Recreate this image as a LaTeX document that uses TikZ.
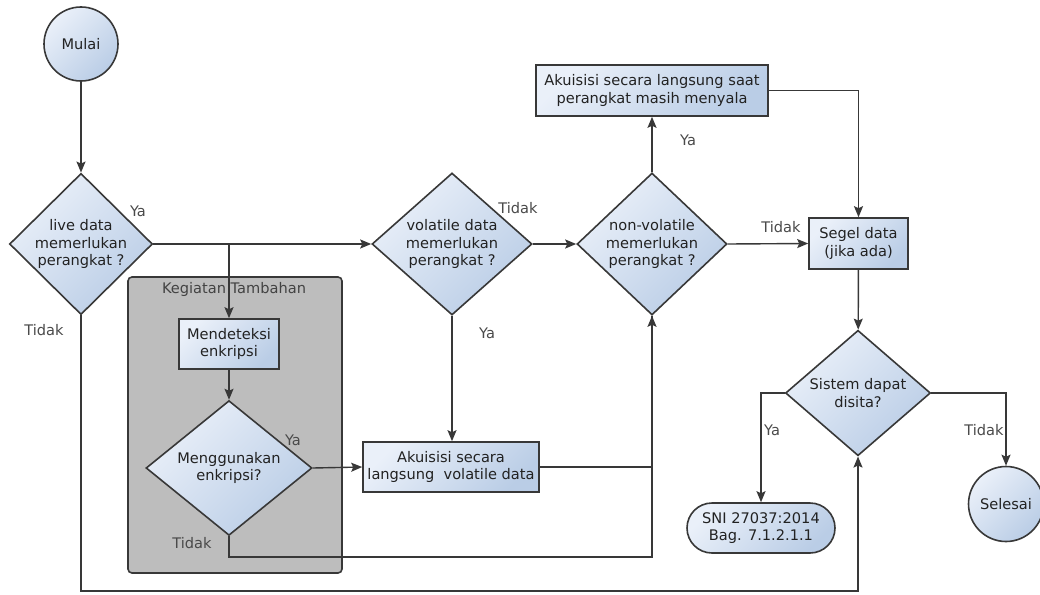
\documentclass[tikz,border=0pt]{standalone}
\usepackage{fontspec}
\setmainfont{DejaVu Sans}
\usetikzlibrary{shapes.geometric,shapes.misc,arrows.meta}
\definecolor{edge}{HTML}{383838}
\definecolor{txt}{HTML}{222222}
\definecolor{lbl}{HTML}{4A4A4A}
\definecolor{fillA}{HTML}{EAF0F9}
\definecolor{fillB}{HTML}{BACDE6}
\definecolor{groupfill}{HTML}{BDBDBD}

\begin{document}
\begin{tikzpicture}[x=1pt,y=-1pt,
  font=\fontsize{14.6}{17.5}\selectfont,
  blue shade/.style={top color=fillA,bottom color=fillB,shading angle=45},
  base/.style={draw=edge,line width=1.6pt,text=txt,inner sep=0pt,align=center,blue shade},
  box/.style={base,rectangle},
  dec/.style={base,diamond},
  term/.style={base,circle},
  link/.style={draw=edge,line width=1.4pt},
  arr/.style={link,-{Stealth[length=11pt,width=9pt,inset=2pt]}},
  lab/.style={text=lbl,inner sep=0pt}]
\useasboundingbox (0,0) rectangle (1040,594);
\fill[white] (0,0) rectangle (1040,594);

% optional-activity group
\node[draw=edge, fill=groupfill, line width=1.6pt, rounded corners=4pt,
      minimum width=214, minimum height=296, inner sep=0pt] (grp) at (235,425) {};
\node[text=txt!85, inner sep=0pt] (grplab) at (234,289) {Kegiatan Tambahan};

% nodes
\node[term, minimum size=74] (start) at (81,44) {Mulai};
\node[dec, minimum width=143, minimum height=135] (live) at (81,244) {live data\\memerlukan\\perangkat ?};
\node[dec, minimum width=160, minimum height=142] (vol) at (452,244) {volatile data\\memerlukan\\perangkat ?};
\node[dec, minimum width=150, minimum height=142] (nv) at (652,244) {non-volatile\\memerlukan\\perangkat ?};
\node[box, minimum width=232, minimum height=51] (liveacq) at (652,90.5) {Akuisisi secara langsung saat\\perangkat masih menyala};
\node[box, minimum width=99, minimum height=51] (seal) at (858.5,243.5) {Segel data\\(jika ada)};
\node[dec, minimum width=145, minimum height=112] (seize) at (858,393) {Sistem dapat\\disita?};
\node[base, rounded rectangle, minimum width=148, minimum height=50] (sni) at (761,528) {SNI 27037:2014\\Bag. 7.1.2.1.1};
\node[term, minimum size=75] (end) at (1006,504) {Selesai};
\node[box, minimum width=100, minimum height=50] (detect) at (229,344) {Mendeteksi\\enkripsi};
\node[dec, minimum width=166, minimum height=116] (enc) at (229,468) {Menggunakan\\enkripsi?};
\node[box, minimum width=176, minimum height=50] (volacq) at (451,467) {Akuisisi secara\\langsung\ \ volatile data};

% connectors
\draw[arr] (start) -- (live);
\draw[arr] (live.east) -- (vol.west);
\draw[arr] (live.east -| detect.north) -- (detect.north);
\draw[arr] (detect) -- (enc);
\draw[arr] (enc.east) -- (volacq.west);
\draw[arr] (vol.south) -- (vol.south |- volacq.north);
\draw[arr] (vol.east) -- (nv.west);
\draw[arr] (nv.north) -- (liveacq.south);
\draw[arr] (nv.east) -- (seal.west);
\draw[arr] (liveacq.east) -| (seal.north);
\draw[arr] (seal) -- (seize);
\draw[arr] (seize.west) -| (sni.north);
\draw[arr] (seize.east) -| (end.north);
\draw[link] (volacq.east) -| (nv.south);
\coordinate (encturn) at (229,557);
\draw[arr] (enc.south) -- (encturn) -| (nv.south);
\coordinate (loopturn) at (81,591);
\draw[arr] (live.south) -- (loopturn) -| (seize.south);

% branch labels
\node[lab] (l1) at (138,211) {Ya};
\node[lab] (l2) at (44,330) {Tidak};
\node[lab] (l3) at (518,208) {Tidak};
\node[lab] (l4) at (487,333) {Ya};
\node[lab] (l5) at (688,140) {Ya};
\node[lab] (l6) at (781,227) {Tidak};
\node[lab] (l7) at (293,440) {Ya};
\node[lab] (l8) at (192,543) {Tidak};
\node[lab] (l9) at (772,430) {Ya};
\node[lab] (l10) at (984,430) {Tidak};
\end{tikzpicture}
\end{document}
